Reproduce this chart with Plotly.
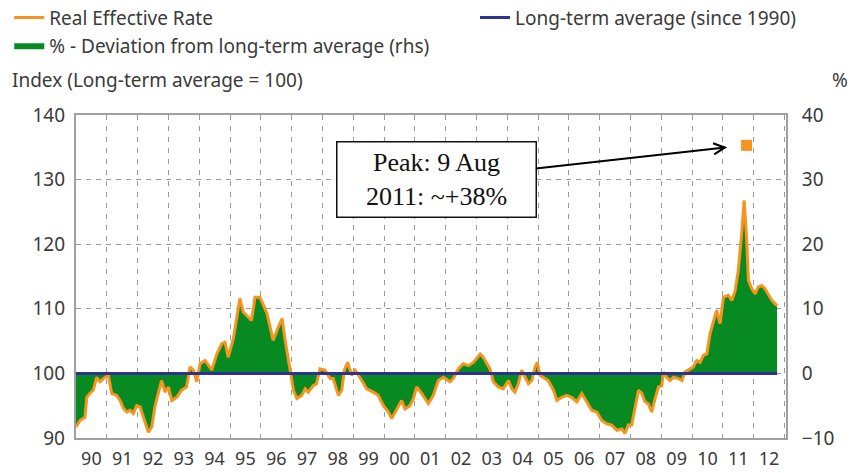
import plotly.graph_objects as go

# ---------------- data ----------------
dates = [1990.00,1990.13,1990.29,1990.35,1990.45,1990.56,1990.67,1990.78,1990.89,1991.05,
         1991.16,1991.32,1991.43,1991.54,1991.65,1991.75,1991.86,1991.97,1992.08,1992.19,
         1992.35,1992.46,1992.56,1992.67,1992.78,1992.89,1993.00,1993.11,1993.27,1993.43,
         1993.59,1993.70,1993.81,1993.92,1994.03,1994.19,1994.30,1994.41,1994.57,1994.73,
         1994.84,1994.94,1995.11,1995.22,1995.32,1995.43,1995.54,1995.70,1995.81,1995.97,
         1996.20,1996.40,1996.56,1996.69,1996.79,1996.95,1997.06,1997.17,1997.33,1997.44,
         1997.54,1997.70,1997.81,1997.92,1998.08,1998.25,1998.35,1998.52,1998.63,1998.71,
         1998.82,1998.95,1999.06,1999.28,1999.44,1999.65,1999.81,1999.98,2000.14,2000.25,
         2000.41,2000.57,2000.68,2000.84,2000.95,2001.06,2001.22,2001.44,2001.60,2001.76,
         2001.93,2002.14,2002.25,2002.41,2002.57,2002.74,2002.90,2003.01,2003.12,2003.22,
         2003.33,2003.44,2003.55,2003.71,2003.87,2004.04,2004.15,2004.25,2004.36,2004.47,
         2004.58,2004.69,2004.80,2004.90,2004.98,2005.06,2005.23,2005.33,2005.50,2005.61,
         2005.77,2005.93,2006.09,2006.26,2006.42,2006.58,2006.74,2006.91,2007.07,2007.23,
         2007.39,2007.56,2007.72,2007.82,2007.93,2008.04,2008.15,2008.26,2008.37,2008.47,
         2008.58,2008.69,2008.80,2008.91,2009.02,2009.07,2009.18,2009.29,2009.39,2009.56,
         2009.67,2009.77,2009.94,2010.04,2010.15,2010.26,2010.37,2010.48,2010.58,2010.69,
         2010.80,2010.91,2011.02,2011.18,2011.29,2011.40,2011.50,2011.61,2011.69,2011.77,
         2011.83,2011.94,2012.05,2012.15,2012.26,2012.37,2012.48,2012.59,2012.69,2012.76]

real_effective_rate = [91.7,92.7,93.2,96.3,96.9,97.4,99.4,98.7,99.2,99.7,
                       96.9,96.6,95.8,94.6,94.0,94.3,93.8,95.0,94.8,93.2,
                       90.9,91.7,94.8,96.9,98.9,97.1,97.9,95.8,96.3,97.4,
                       97.9,101.0,100.5,98.7,101.5,102.0,101.2,100.5,103.0,104.6,
                       104.8,102.5,105.4,108.7,111.6,109.5,109.0,108.2,111.8,111.8,
                       109.3,105.1,107.1,108.5,105.1,100.2,97.4,96.1,96.6,97.6,
                       97.1,98.1,98.4,100.7,100.5,99.2,99.2,96.6,97.4,100.5,
                       101.7,99.7,100.5,98.9,97.6,97.1,96.6,95.0,94.0,93.0,
                       94.3,95.8,94.5,95.0,96.1,97.9,96.9,95.3,96.6,98.9,
                       99.4,98.7,99.2,100.7,101.5,101.2,101.7,102.3,103.0,102.5,
                       101.5,100.7,98.7,97.9,97.6,98.9,97.6,97.1,98.4,100.5,
                       99.4,98.4,98.9,101.0,101.7,99.7,99.2,98.9,97.4,95.8,
                       96.3,96.6,96.3,95.6,96.9,95.6,94.3,94.0,92.7,92.2,
                       92.0,91.2,91.4,90.7,92.0,92.0,94.8,97.4,96.9,95.6,
                       95.3,94.0,96.1,97.9,98.1,100.2,99.4,98.9,99.4,99.2,
                       98.9,100.2,100.7,101.0,102.0,101.7,102.8,103.0,106.1,107.9,
                       109.8,107.7,111.8,112.1,111.3,112.8,115.9,121.6,126.8,121.1,
                       114.4,113.1,112.3,113.4,113.6,113.1,112.3,111.3,110.8,110.5]

long_term_avg = 100
deviation_pct = [v - long_term_avg for v in real_effective_rate]

peak_marker_x = [2011.77]
peak_marker_pct = [35.3]

year_tick_vals = [1990.5 + i for i in range(23)]
year_tick_text = ["90","91","92","93","94","95","96","97","98","99","00","01",
                  "02","03","04","05","06","07","08","09","10","11","12"]

# ---------------- styling ----------------
FONT = "Noto Sans"
TXT = "#3a3a3a"
GREEN = "#088A22"
ORANGE = "#F7941D"
BLUE = "#2E3192"
GRID = "#9a9a9a"
AXIS = "#a0a0a0"

fig = go.Figure()

fig.add_trace(go.Scatter(
    x=dates, y=deviation_pct, yaxis="y", mode="lines", fill="tozeroy",
    fillcolor=GREEN, line=dict(width=0, color=GREEN),
    name="% - Deviation from long-term average (rhs)",
    legend="legend", legendrank=2, hoverinfo="skip"))

fig.add_trace(go.Scatter(
    x=peak_marker_x, y=peak_marker_pct, yaxis="y", mode="markers",
    marker=dict(symbol="square", size=11, color=ORANGE),
    showlegend=False, hoverinfo="skip"))

fig.add_trace(go.Scatter(
    x=dates, y=real_effective_rate, yaxis="y2", mode="lines",
    line=dict(color=ORANGE, width=3),
    name="Real Effective Rate", legend="legend", legendrank=1))

fig.add_trace(go.Scatter(
    x=[dates[0], dates[-1]], y=[long_term_avg, long_term_avg], yaxis="y2",
    mode="lines", line=dict(color=BLUE, width=3),
    name="Long-term average (since 1990)", legend="legend2"))

tickfont = dict(family=FONT, size=19, color=TXT)

fig.update_layout(
    width=857, height=473,
    margin=dict(l=76, r=71, t=115, b=35, autoexpand=False),
    paper_bgcolor="white", plot_bgcolor="white",
    xaxis=dict(
        range=[1990, 2013.05], tickmode="array",
        tickvals=year_tick_vals, ticktext=year_tick_text,
        showgrid=False, zeroline=False, ticks="", ticklabelstandoff=3,
        tickfont=dict(family=FONT, size=18, color=TXT), automargin=False,
        showline=True, mirror=True, linecolor=AXIS, linewidth=2,
        minor=dict(tickmode="linear", tick0=1991, dtick=1, showgrid=True,
                   griddash="5px,6px", gridcolor=GRID, gridwidth=1, ticks=""),
    ),
    yaxis=dict(
        side="right", range=[-10, 40], dtick=10, tickmode="linear", tick0=-10,
        showgrid=True, griddash="5px,5px", gridcolor=GRID, gridwidth=1,
        zeroline=False, ticks="", ticklabelstandoff=10, tickfont=tickfont,
        automargin=False,
        showline=True, mirror=True, linecolor=AXIS, linewidth=2,
    ),
    yaxis2=dict(
        overlaying="y", side="left", range=[90, 140], dtick=10,
        tickmode="linear", tick0=90, automargin=False,
        showgrid=False, zeroline=False, ticks="", ticklabelstandoff=10,
        tickfont=tickfont, showline=False,
    ),
    legend=dict(x=-0.094, y=1.36, xanchor="left", yanchor="top",
                orientation="v", bgcolor="rgba(0,0,0,0)",
                font=dict(family=FONT, size=19, color=TXT),
                itemwidth=30, tracegroupgap=0),
    legend2=dict(x=0.562, y=1.36, xanchor="left", yanchor="top",
                 orientation="v", bgcolor="rgba(0,0,0,0)",
                 font=dict(family=FONT, size=19, color=TXT),
                 itemwidth=30),
    showlegend=True,
    annotations=[
        dict(text="Index (Long-term average = 100)", xref="paper", yref="paper",
             x=-0.093, y=1.108, xanchor="left", yanchor="middle", showarrow=False,
             font=dict(family=FONT, size=19, color=TXT)),
        dict(text="%", xref="paper", yref="paper", x=1.076, y=1.108,
             xanchor="center", yanchor="middle", showarrow=False,
             font=dict(family=FONT, size=19, color=TXT)),
        dict(text="Peak: 9 Aug<br>2011: ~+38%", x=2011.14, y=35.0, xref="x", yref="y",
             ax=2001.69, ay=30.0, axref="x", ayref="y", showarrow=True,
             arrowhead=5, arrowsize=1.1, arrowwidth=2, arrowcolor="black",
             font=dict(family="Liberation Serif", size=26, color="#111111"),
             bordercolor="#111111", borderwidth=1.5, borderpad=4, bgcolor="white",
             width=190, height=66, align="center"),
    ],
)

fig.write_html("out.html", config={"displayModeBar": False},
               post_script="document.body.style.margin='0px';")
